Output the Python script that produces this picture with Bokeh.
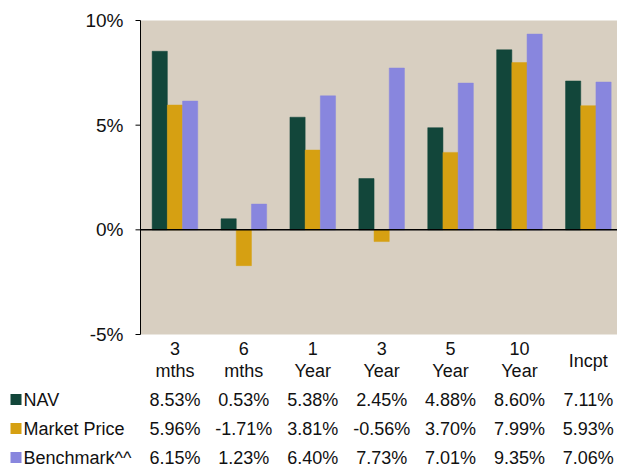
import math
from bokeh.plotting import figure
from bokeh.models import Range1d, BoxAnnotation
from bokeh.core.properties import value
from bokeh.embed import file_html
from bokeh.resources import INLINE

# ---------------- data ----------------
categories = ["3\nmths", "6\nmths", "1\nYear", "3\nYear", "5\nYear", "10\nYear", "Incpt"]
series_names = ["NAV", "Market Price", "Benchmark^^"]
nav = [8.53, 0.53, 5.38, 2.45, 4.88, 8.60, 7.11]
market_price = [5.96, -1.71, 3.81, -0.56, 3.70, 7.99, 5.93]
benchmark = [6.15, 1.23, 6.40, 7.73, 7.01, 9.35, 7.06]
y_ticks = [-5, 0, 5, 10]
y_tick_labels = ["-5%", "0%", "5%", "10%"]

series = [nav, market_price, benchmark]
colors = ["#12463a", "#d6a012", "#8886de"]
BG = "#d8cfc1"
FONT = "Liberation Sans"
TXT = "#111111"

# ---------------- layout constants ----------------
W, H = 617, 467
LEFT = 140          # plot-area left (px)
TOP = 20            # plot-area top (px)
CAT_PX = 68.9       # px per category
PX_PER_PCT = 314 / 15.0
y_min_axis, y_max_axis = y_ticks[0], y_ticks[-1]
bw = 15.2 / CAT_PX
xc = [i + 0.5 for i in range(len(categories))]
TXT_DY = 7          # svg alphabetic baseline correction (px)


def px2x(px):
    return (px - LEFT) / CAT_PX


def py2y(py):
    return y_max_axis - (py - TOP) / PX_PER_PCT


def base(py):
    return py2y(py - TXT_DY)


p = figure(width=W, height=H, x_range=Range1d(px2x(0), px2x(W)),
           y_range=Range1d(py2y(H), py2y(0)),
           output_backend="svg", toolbar_location=None,
           x_axis_location=None, y_axis_location=None,
           min_border_left=0, min_border_right=0, min_border_top=0, min_border_bottom=0)
p.background_fill_color = "white"
p.border_fill_color = "white"
p.outline_line_color = None
p.grid.visible = False

# plot area background
p.add_layout(BoxAnnotation(left=0, right=len(categories), bottom=y_min_axis, top=y_max_axis,
                           fill_color=BG, fill_alpha=1.0, line_color=None, level="underlay"))

# bars
for k, vals in enumerate(series):
    xs = [c + (k - 1) * bw for c in xc]
    p.vbar(x=xs, width=bw, top=vals, bottom=0, fill_color=colors[k],
           line_color=colors[k], line_width=0.5)

# zero line
p.segment(x0=[0], y0=[0], x1=[len(categories)], y1=[0], line_color="black", line_width=1.5)

# y axis (line, ticks, labels)
p.segment(x0=[0], y0=[y_min_axis], x1=[0], y1=[y_max_axis], line_color="black", line_width=1)
p.ray(x=[0] * len(y_ticks), y=y_ticks, length=5, length_units="screen", angle=math.pi,
      line_color="black", line_width=1)
p.text(x=[0] * len(y_ticks), y=[py2y(20 + (y_max_axis - t) * PX_PER_PCT + 7 - TXT_DY) for t in y_ticks],
       text=y_tick_labels, x_offset=-17, text_align="right", text_baseline="alphabetic",
       text_font=value(FONT), text_font_size="19px", text_color=TXT)

common = dict(text_font=value(FONT), text_font_size="18px", text_color=TXT,
              text_baseline="alphabetic", text_align="center")

# category labels
two = [(c, cat.split("\n")) for c, cat in zip(xc, categories) if "\n" in cat]
one = [(c, cat) for c, cat in zip(xc, categories) if "\n" not in cat]
p.text(x=[t[0] for t in two], y=[base(355)] * len(two), text=[t[1][0] for t in two], **common)
p.text(x=[t[0] for t in two], y=[base(377)] * len(two), text=[t[1][1] for t in two], **common)
p.text(x=[t[0] for t in one], y=[base(367)] * len(one), text=[t[1] for t in one], **common)

# value table + legend
row_base = [406, 435, 464]
for k, vals in enumerate(series):
    yb = base(row_base[k])
    p.text(x=xc, y=[yb] * len(xc), text=[f"{v:.2f}%" for v in vals], **common)
    p.text(x=[px2x(23)], y=[yb], text=[series_names[k]],
           text_font=value(FONT), text_font_size="18px", text_color=TXT,
           text_baseline="alphabetic", text_align="left")
    p.rect(x=[px2x(15.5)], y=[py2y(row_base[k] - 7)], width=11, height=11,
           width_units="screen", height_units="screen",
           fill_color=colors[k], line_color=None)

open("out.html", "w").write(file_html(p, INLINE))
